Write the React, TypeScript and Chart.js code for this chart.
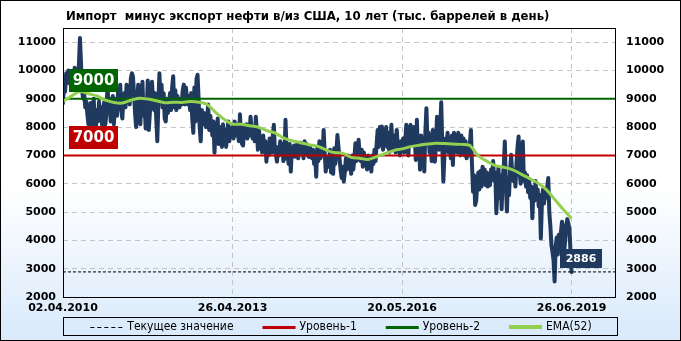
import React, { useEffect, useRef } from 'react';
import { Chart, registerables } from 'chart.js';

Chart.register(...registerables);

// ---------- data ----------
const chartTitle = 'Импорт  минус экспорт нефти в/из США, 10 лет (тыс. баррелей в день)';
const tickIndex = [0, 160, 320, 480];
const tickDates = ['02.04.2010', '26.04.2013', '20.05.2016', '26.06.2019'];
const yTickValues = [2000, 3000, 4000, 5000, 6000, 7000, 8000, 9000, 10000, 11000];
const yMin = 2000;
const yMax = 11500;
const xMaxIndex = 521;

// weekly net imports, thousand barrels per day (index = week since 02.04.2010)
const weeklyNetImports = [
  8850, 9500, 9250, 9900, 9700, 10000, 9550, 9850, 9450, 9900,
  9650, 10100, 9750, 10000, 9600, 10200, 11150, 10250, 9300, 9000,
  9200, 8700, 8900, 8450, 8100, 8300, 8850, 8000, 8400, 9000,
  8100, 7900, 8600, 8200, 8900, 8400, 8700, 8000, 8600, 8900,
  8100, 8500, 9500, 8700, 9000, 8200, 8500, 9100, 8100, 8700,
  9000, 8400, 9300, 8800, 9500, 8600, 8300, 9000, 9200, 8700,
  9500, 8900, 9300, 8800, 9700, 9900, 9800, 9200, 8500, 8000,
  8900, 9500, 8700, 8100, 9100, 9600, 8400, 8900, 7950, 8600,
  9650, 7900, 8500, 9300, 9600, 8900, 8600, 9200, 8300, 7500,
  8800, 9900, 9000, 9500, 8700, 9200, 8300, 8200, 9000, 8500,
  8800, 9200, 8600, 9400, 9800, 8700, 9300, 8600, 9100, 8800,
  8700, 9000, 8800, 9300, 9500, 8800, 9400, 9000, 8800, 9100,
  8600, 9200, 8300, 7800, 9400, 8200, 9700, 9850, 9000, 8000,
  7500, 8600, 8100, 8500, 8200, 8000, 8300, 8800, 7900, 8400,
  8100, 7700, 8200, 7100, 8000, 7500, 8300, 7400, 8000, 7700,
  7300, 8100, 7600, 7900, 7300, 7800, 8200, 7500, 7800, 7700,
  8000, 7600, 8200, 7700, 8100, 7800, 7500, 8450, 7700, 7400,
  7350, 8000, 7700, 8100, 7600, 7900, 7700, 8370, 7900, 7600,
  8000, 7500, 8370, 7800, 7200, 7900, 7300, 7600, 7100, 7700,
  7200, 7500, 6780, 7400, 7000, 7600, 7300, 7100, 7700, 8080,
  7200, 7000, 6780, 7300, 7000, 7500, 7100, 7400, 6800, 6900,
  8260, 7200, 7000, 6700, 7400, 6430, 7200, 7000, 7350, 6950,
  7300, 7400, 6900, 7200, 7450, 7100, 7300, 6900, 7500, 7100,
  7400, 7000, 6950, 7300, 7100, 6900, 7200, 6700, 7000, 6250,
  7300, 6800, 7500, 6900, 7200, 7000, 7900, 7100, 6430, 6900,
  6800, 6600, 7200, 6400, 7000, 6350, 7250, 6700, 7100, 7720,
  7300, 6900, 6500, 6200, 6600, 6080, 6400, 6900, 6500, 7000,
  6600, 6900, 6350, 7000, 6500, 6900, 7430, 6800, 7100, 7550,
  7000, 6800, 7200, 6600, 7100, 6700, 6900, 6500, 7000, 6600,
  6900, 6430, 7000, 6700, 7200, 6800, 7400, 7900, 7300, 8000,
  7500, 8020, 7200, 7700, 7600, 8000, 7300, 7800, 7100, 7600,
  8080, 7200, 7700, 7500, 7100, 7900, 7300, 7400, 7000, 7500,
  7200, 7600, 7100, 7500, 8080, 7300, 7000, 7900, 8080, 7500,
  7400, 8000, 7600, 6840, 8260, 7100, 7500, 6500, 7700, 7200,
  7600, 6430, 7800, 8670, 7500, 7800, 7100, 7300, 6800, 7900,
  7500, 6780, 7400, 8370, 7600, 7200, 7900, 8880, 7300, 6080,
  7000, 7600, 7300, 7800, 7100, 7600, 6900, 7700, 6660, 7800,
  7300, 7700, 7100, 7800, 7400, 7000, 7700, 7200, 7600, 7000,
  7500, 6900, 7300, 7000, 7400, 7900, 6700, 5720, 6300, 5250,
  5400, 6000, 6400, 5800, 6450, 5900, 6600, 6000, 6500, 5950,
  6400, 5900, 6300, 5950, 6500, 6200, 6800, 6100, 6400, 4960,
  5800, 6600, 5500, 6300, 5100, 6200, 6600, 7490, 6000, 5020,
  6200, 5600, 6500, 7020, 6300, 6100, 6500, 5900, 6700, 7300,
  7670, 6400, 6000, 6900, 7490, 6100, 6400, 5900, 6300, 5700,
  6100, 5500, 5900, 4780, 5700, 5400, 6100, 5500, 5800, 5200,
  5600, 4070, 5300, 5800, 5300, 5700, 5500, 5900, 6200, 5000,
  4500, 3830, 3600, 3300, 2550, 3800, 4100, 3500, 4200, 3700,
  4300, 4660, 4400, 3600, 4000, 4500, 4750, 4600, 4400, 3600,
  2886,
];

// EMA(52) read at sampled weeks
const emaWeek = [
  0, 8, 16, 24, 32, 40, 48, 56, 64, 72, 80, 88, 96, 104, 112, 120, 128, 136, 144, 152,
  160, 168, 176, 184, 192, 200, 208, 216, 224, 232, 240, 248, 256, 264, 272, 280, 288, 296, 304, 312,
  320, 328, 336, 344, 352, 360, 368, 376, 384, 392, 400, 408, 416, 424, 432, 440, 448, 456, 464, 472, 480,
];
const emaValues = [
  8900, 9100, 9260, 9180, 9100, 8950, 8870, 8850, 8950, 9020, 8990, 8930, 8860, 8880, 8870, 8900, 8880, 8800, 8520, 8280,
  8110, 8100, 8050, 8000, 7880, 7800, 7620, 7520, 7450, 7380, 7330, 7200, 7100, 7080, 6930, 6900, 6860, 6960, 7060, 7170,
  7230, 7310, 7360, 7400, 7430, 7420, 7400, 7390, 7350, 6980, 6800, 6640, 6580, 6500, 6350, 6190, 6030, 5800, 5450, 5100, 4780,
];

const level1 = 7000;
const level2 = 9000;
const currentValue = 2886;
const legendLabels = ['Текущее значение', 'Уровень-1', 'Уровень-2', 'EMA(52)'];

// ---------- styles ----------
const NAVY = '#1f3a5e';
const RED = '#c00000';
const GREEN = '#006400';
const LIGHTGREEN = '#92d050';
const GRID = '#c4c4c4';
const TICK_FONT = { family: "'DejaVu Sans', Verdana, sans-serif", weight: 'bold' as const, size: 11 };

const decorPlugin = {
  id: 'decor',
  afterDatasetsDraw(chart: any) {
    const { ctx, chartArea: a, scales } = chart;
    const ys = scales.y;
    const xs = scales.x;
    ctx.save();
    // plot frame
    ctx.strokeStyle = '#000';
    ctx.lineWidth = 1;
    ctx.setLineDash([]);
    ctx.strokeRect(Math.round(a.left) + 0.5, Math.round(a.top) + 0.5, Math.round(a.right - a.left), Math.round(a.bottom - a.top));

    const tag = (text: string, bg: string, x: number, y: number, w: number, h: number, font: string) => {
      ctx.fillStyle = bg;
      ctx.fillRect(x, y, w, h);
      ctx.fillStyle = '#fff';
      ctx.font = font;
      ctx.textAlign = 'center';
      ctx.textBaseline = 'middle';
      ctx.fillText(text, x + w / 2, y + h / 2 + 1);
    };
    const bigFont = "bold 15px 'DejaVu Sans', sans-serif";
    tag(String(level2), GREEN, Math.round(a.left) + 6, Math.round(ys.getPixelForValue(level2)) - 30, 49, 23, bigFont);
    tag(String(level1), RED, Math.round(a.left) + 6, Math.round(ys.getPixelForValue(level1)) - 29, 49, 23, bigFont);
    const lastX = xs.getPixelForValue(weeklyNetImports.length - 1);
    tag(String(currentValue), NAVY, Math.round(lastX) - 12, Math.round(ys.getPixelForValue(currentValue)) - 23, 42, 19,
      "bold 11px 'DejaVu Sans', sans-serif");
    ctx.restore();
  },
  afterDraw(chart: any) {
    const { ctx, chartArea: a } = chart;
    ctx.save();
    // title
    ctx.fillStyle = '#000';
    ctx.font = "bold 13px 'DejaVu Sans Condensed', 'DejaVu Sans', sans-serif";
    ctx.textAlign = 'left';
    ctx.textBaseline = 'middle';
    ctx.fillText(chartTitle, Math.round(a.left) + 3, 17);

    // legend
    const boxL = Math.round(a.left);
    const boxR = Math.round(a.right) + 2;
    const boxT = 317;
    const boxH = 18;
    ctx.strokeStyle = '#000';
    ctx.lineWidth = 1;
    ctx.strokeRect(boxL + 0.5, boxT + 0.5, boxR - boxL, boxH);
    const items = [
      { label: legendLabels[0], color: '#000', width: 1, dash: [4, 3] },
      { label: legendLabels[1], color: RED, width: 3, dash: [] },
      { label: legendLabels[2], color: GREEN, width: 3, dash: [] },
      { label: legendLabels[3], color: LIGHTGREEN, width: 4, dash: [] },
    ];
    ctx.font = "12px 'DejaVu Sans Condensed', 'DejaVu Sans', sans-serif";
    const lineLen = 33;
    const gapLine = 4;
    const gapItem = 29;
    const widths = items.map((it) => ctx.measureText(it.label).width);
    const total = widths.reduce((s, w) => s + lineLen + gapLine + w, 0) + gapItem * (items.length - 1);
    let x = (boxL + boxR) / 2 + 1 - total / 2;
    const cy = boxT + boxH / 2 + 1;
    items.forEach((it, i) => {
      ctx.beginPath();
      ctx.strokeStyle = it.color;
      ctx.lineWidth = it.width;
      ctx.setLineDash(it.dash);
      const ly = it.width % 2 === 1 ? Math.round(cy) + 0.5 : Math.round(cy);
      ctx.moveTo(x, ly);
      ctx.lineTo(x + lineLen, ly);
      ctx.stroke();
      ctx.setLineDash([]);
      ctx.fillStyle = '#000';
      ctx.textAlign = 'left';
      ctx.textBaseline = 'middle';
      ctx.fillText(it.label, x + lineLen + gapLine, cy);
      x += lineLen + gapLine + widths[i] + gapItem;
    });
    ctx.restore();
  },
};

export default function App() {
  const canvasRef = useRef<HTMLCanvasElement>(null);

  useEffect(() => {
    document.body.style.margin = '0';
    const mainPts = weeklyNetImports.map((v, i) => ({ x: i, y: v }));
    const emaPts = emaWeek.map((w, i) => ({ x: w, y: emaValues[i] }));
    const span = (v: number) => [{ x: 0, y: v }, { x: xMaxIndex, y: v }];

    const chart = new Chart(canvasRef.current as HTMLCanvasElement, {
      type: 'line',
      data: {
        datasets: [
          {
            label: legendLabels[3],
            data: emaPts,
            borderColor: LIGHTGREEN,
            borderWidth: 3,
            pointRadius: 0,
            tension: 0.3,
            order: 1,
          },
          {
            label: legendLabels[0],
            data: span(currentValue),
            borderColor: '#000',
            borderWidth: 1,
            borderDash: [3, 2],
            pointRadius: 0,
            order: 2,
          },
          {
            label: legendLabels[1],
            data: span(level1),
            borderColor: RED,
            borderWidth: 2,
            pointRadius: 0,
            order: 3,
          },
          {
            label: legendLabels[2],
            data: span(level2),
            borderColor: GREEN,
            borderWidth: 2,
            pointRadius: 0,
            order: 3,
          },
          {
            label: 'data',
            data: mainPts,
            borderColor: NAVY,
            borderWidth: 4,
            borderJoinStyle: 'round',
            borderCapStyle: 'round',
            pointRadius: 0,
            tension: 0,
            order: 5,
          },
        ],
      },
      options: {
        responsive: false,
        animation: false,
        devicePixelRatio: 1,
        layout: { padding: { top: 28, left: 0, right: 0, bottom: 0 } },
        plugins: {
          legend: { display: false },
          title: { display: false },
          tooltip: { enabled: false },
        },
        events: [],
        scales: {
          x: {
            type: 'linear',
            min: 0,
            max: xMaxIndex,
            afterBuildTicks: (s: any) => {
              s.ticks = tickIndex.map((v) => ({ value: v }));
            },
            afterFit: (s: any) => {
              s.height = 44;
            },
            ticks: {
              autoSkip: false,
              maxRotation: 0,
              padding: 5,
              color: '#000',
              font: TICK_FONT,
              callback: (v: any) => {
                const i = tickIndex.indexOf(Number(v));
                return i >= 0 ? tickDates[i] : '';
              },
            },
            grid: {
              drawTicks: false,
              color: (c: any) => (c.tick && c.tick.value === 0 ? 'rgba(0,0,0,0)' : GRID),
              lineWidth: 1,
            },
            border: { display: false, dash: [5, 4] },
          },
          y: {
            type: 'linear',
            position: 'left',
            min: yMin,
            max: yMax,
            afterBuildTicks: (s: any) => {
              s.ticks = yTickValues.map((v) => ({ value: v }));
            },
            afterFit: (s: any) => {
              s.width = 63;
            },
            ticks: { padding: 7, color: '#000', font: TICK_FONT, callback: (v: any) => String(v) },
            grid: {
              drawTicks: false,
              color: (c: any) => (c.tick && c.tick.value === yMin ? 'rgba(0,0,0,0)' : GRID),
              lineWidth: 1,
            },
            border: { display: false, dash: [5, 4] },
          },
          y2: {
            type: 'linear',
            position: 'right',
            min: yMin,
            max: yMax,
            afterBuildTicks: (s: any) => {
              s.ticks = yTickValues.map((v) => ({ value: v }));
            },
            afterFit: (s: any) => {
              s.width = 66;
            },
            ticks: { padding: 11, color: '#000', font: TICK_FONT, callback: (v: any) => String(v) },
            grid: { display: false, drawTicks: false },
            border: { display: false },
          },
        },
      } as any,
      plugins: [decorPlugin],
    });
    return () => chart.destroy();
  }, []);

  return (
    <div
      style={{
        position: 'relative',
        width: 681,
        height: 341,
        overflow: 'hidden',
        background: 'linear-gradient(to bottom, #ffffff 0%, #ffffff 55%, #d8e9fb 100%)',
      }}
    >
      <canvas
        ref={canvasRef}
        width={681}
        height={341}
        style={{ position: 'absolute', left: 0, top: 0, width: 681, height: 341 }}
      />
      <div
        style={{
          position: 'absolute',
          left: 0,
          top: 0,
          width: 681,
          height: 341,
          border: '1px solid #000',
          boxSizing: 'border-box',
          pointerEvents: 'none',
        }}
      />
    </div>
  );
}
